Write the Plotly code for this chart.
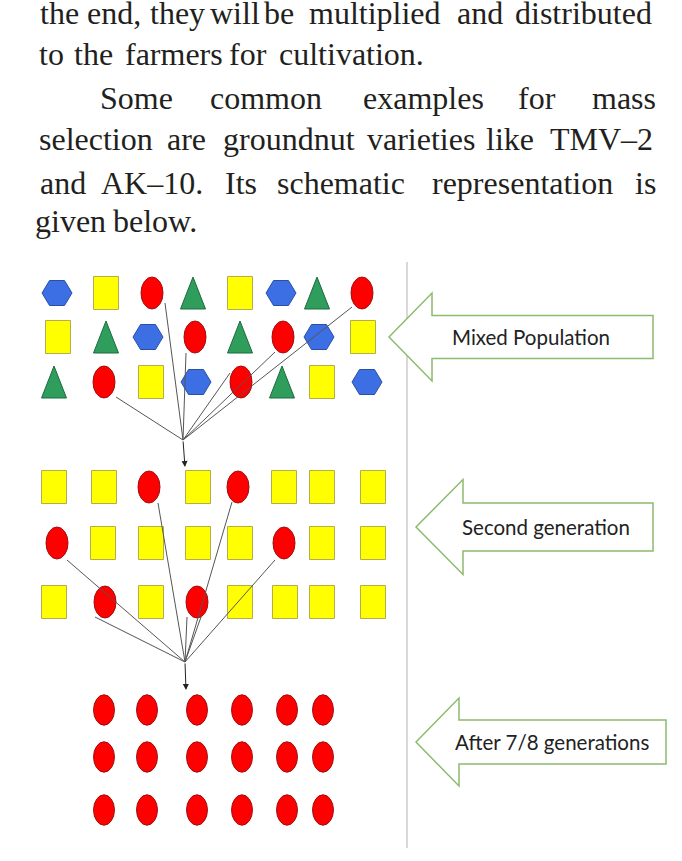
import plotly.graph_objects as go

# ---------------- data ----------------
# paragraph words per line and their centre x positions
line_words = [
    ["the", "end,", "they", "will", "be", "multiplied", "and", "distributed"],
    ["to", "the", "farmers", "for", "cultivation."],
    ["Some", "common", "examples", "for", "mass"],
    ["selection", "are", "groundnut", "varieties", "like", "TMV\u20132"],
    ["and", "AK\u201310.", "Its", "schematic", "representation", "is"],
    ["given", "below."],
]
line_word_cx = [
    [59, 114, 177, 235, 279, 374.5, 479.5, 583.5],
    [51, 93, 174, 248, 351],
    [136, 266, 423, 537, 623.5],
    [95.5, 186, 289, 420.5, 510, 601.5],
    [62.5, 152, 241, 341, 522, 645],
    [70, 155],
]
line_baseline = [22, 63, 107, 148, 192, 230]

# H = hexagon, R = rectangle, O = oval, T = triangle
grid1_kinds = [
    ["H", "R", "O", "T", "R", "H", "T", "O"],
    ["R", "T", "H", "O", "T", "O", "H", "R"],
    ["T", "O", "R", "H", "O", "T", "R", "H"],
]
grid1_x = [
    [57, 106, 152, 193, 240, 281, 317, 362],
    [58, 106, 148, 195, 240, 283, 319, 363],
    [54, 104, 151, 196, 241, 282, 322, 367],
]
grid1_y = [293, 337, 382]

grid2_kinds = [
    ["R", "R", "O", "R", "O", "R", "R", "R"],
    ["O", "R", "R", "R", "R", "O", "R", "R"],
    ["R", "O", "R", "O", "R", "R", "R", "R"],
]
grid2_x = [
    [54, 104, 149, 198, 238, 284, 322, 373],
    [57, 103, 151, 198, 240, 284, 322, 373],
    [54, 105, 151, 197, 240, 285, 322, 373],
]
grid2_y = [487, 543, 602]

grid3_kinds = [["O"] * 6, ["O"] * 6, ["O"] * 6]
grid3_x = [[104, 147, 197, 242, 287, 323]] * 3
grid3_y = [710, 757, 810]

# selection lines: start points converge at a point
sel1_from = [(165, 303), (116, 397), (186, 353), (230, 373), (275, 352), (352, 307)]
sel1_to = (183, 440)
sel1_arrow_end = (185, 467)

sel2_from = [(158, 503), (232, 502), (67, 560), (275, 560), (95, 617), (187, 617), (201, 617)]
sel2_to = (185, 662)
sel2_arrow_end = (186, 690)

labels = ["Mixed Population", "Second generation", "After 7/8 generations"]
label_x = [452, 462, 455]
label_y = [337, 527, 742]
# arrow geometry: tip x, tip y, head x, head half-height, body half-height, right x
arrow_geo = [
    (389, 337, 432, 44, 21.5, 653),
    (416, 527, 463, 47.5, 24, 653),
    (416, 742, 459, 44, 22, 666),
]

# ---------------- styles ----------------
TXT_PAD = 2  # annotation inner padding
STY = {
    "R": dict(w=25, h=33, fill="#ffff00", line="#b5ad4a"),
    "O": dict(w=22, h=32, fill="#ff0000", line="#a01010"),
    "H": dict(w=30, h=25, fill="#3b6fe3", line="#2a4fa8"),
    "T": dict(w=25, h=32, fill="#2f9d5c", line="#1d6b3d"),
}

shapes = []
annotations = []


def add_mark(kind, cx, cy, scale=1.0):
    s = STY[kind]
    w, h = s["w"] * scale, s["h"] * scale
    common = dict(xref="x", yref="y", fillcolor=s["fill"], line=dict(color=s["line"], width=1), layer="above")
    if kind == "R":
        shapes.append(dict(type="rect", x0=cx - w / 2, x1=cx + w / 2, y0=cy - h / 2, y1=cy + h / 2, **common))
    elif kind == "O":
        shapes.append(dict(type="circle", x0=cx - w / 2, x1=cx + w / 2, y0=cy - h / 2, y1=cy + h / 2, **common))
    elif kind == "H":
        pts = [(cx - w / 2, cy), (cx - w / 4, cy - h / 2), (cx + w / 4, cy - h / 2),
               (cx + w / 2, cy), (cx + w / 4, cy + h / 2), (cx - w / 4, cy + h / 2)]
        path = "M " + " L ".join(f"{x},{y}" for x, y in pts) + " Z"
        shapes.append(dict(type="path", path=path, **common))
    elif kind == "T":
        pts = [(cx, cy - h / 2), (cx + w / 2, cy + h / 2), (cx - w / 2, cy + h / 2)]
        path = "M " + " L ".join(f"{x},{y}" for x, y in pts) + " Z"
        shapes.append(dict(type="path", path=path, **common))


for kinds, xs, ys in [(grid1_kinds, grid1_x, grid1_y), (grid2_kinds, grid2_x, grid2_y)]:
    for r, row in enumerate(kinds):
        for c, k in enumerate(row):
            add_mark(k, xs[r][c], ys[r])
for r, row in enumerate(grid3_kinds):
    for c, k in enumerate(row):
        add_mark(k, grid3_x[r][c], grid3_y[r], scale=0.95)

# selection lines (drawn above marks)
for pts, to in [(sel1_from, sel1_to), (sel2_from, sel2_to)]:
    for (x0, y0) in pts:
        shapes.append(dict(type="line", xref="x", yref="y", x0=x0, y0=y0, x1=to[0], y1=to[1],
                           line=dict(color="#555555", width=1), layer="above"))

for to, end in [(sel1_to, sel1_arrow_end), (sel2_to, sel2_arrow_end)]:
    annotations.append(dict(x=end[0], y=end[1], ax=to[0], ay=to[1], xref="x", yref="y",
                            axref="x", ayref="y", showarrow=True, arrowhead=2, arrowsize=1.2,
                            arrowwidth=1, arrowcolor="#222222", text=""))

# vertical separator
shapes.append(dict(type="line", xref="x", yref="y", x0=407, x1=407, y0=262, y1=848,
                   line=dict(color="#c0c0c0", width=1.2), layer="below"))

# block arrows pointing left
for (tx, ty, hx, hh, bh, rx) in arrow_geo:
    pts = [(tx, ty), (hx, ty - hh), (hx, ty - bh), (rx, ty - bh), (rx, ty + bh),
           (hx, ty + bh), (hx, ty + hh)]
    path = "M " + " L ".join(f"{x},{y}" for x, y in pts) + " Z"
    shapes.append(dict(type="path", path=path, xref="x", yref="y", fillcolor="white",
                       line=dict(color="#8dbb6e", width=1.5), layer="below"))

for t, x, y in zip(labels, label_x, label_y):
    annotations.append(dict(x=x - TXT_PAD, y=y, xref="x", yref="y", text=t, showarrow=False,
                            xanchor="left", yanchor="middle",
                            font=dict(family="Lato, Open Sans, sans-serif", size=20.5, color="#222222")))

# paragraph text
FS = 32
for words, xs, base in zip(line_words, line_word_cx, line_baseline):
    for w, x in zip(words, xs):
        annotations.append(dict(x=x, y=base - 0.29 * FS, xref="x", yref="y", text=w, showarrow=False,
                                xanchor="center", yanchor="middle",
                                font=dict(family="Liberation Serif, Times New Roman, serif", size=FS, color="#231f20")))

W, H = 682, 861
fig = go.Figure()
fig.add_trace(go.Scatter(x=[0, W], y=[0, H], mode="markers", marker=dict(opacity=0),
                         hoverinfo="skip", showlegend=False))
fig.update_layout(
    width=W, height=H, margin=dict(l=0, r=0, t=0, b=0),
    paper_bgcolor="white", plot_bgcolor="white",
    xaxis=dict(range=[0, W], visible=False, fixedrange=True),
    yaxis=dict(range=[H, 0], visible=False, fixedrange=True),
    shapes=shapes, annotations=annotations, showlegend=False,
)
fig.write_html("out.html", config={"displayModeBar": False, "staticPlot": True},
               post_script="document.body.style.margin='0px';document.body.style.overflow='hidden';")
